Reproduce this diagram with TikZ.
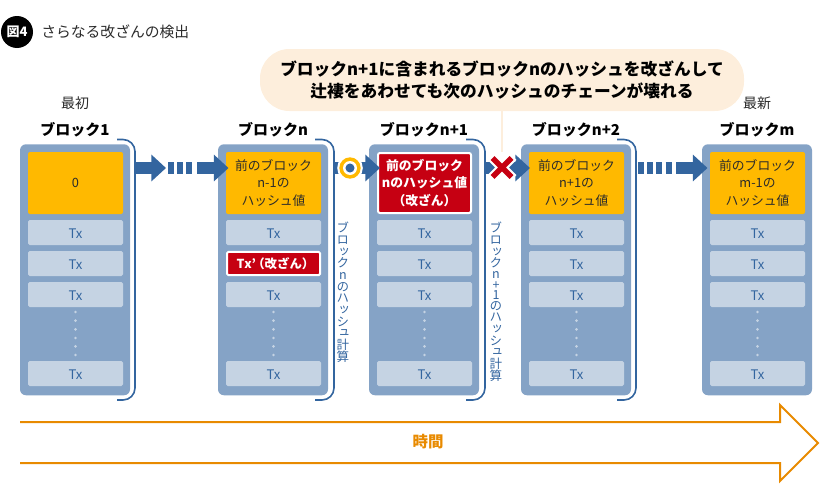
\documentclass[tikz,border=0pt]{standalone}
\usepackage{fontspec}
\usetikzlibrary{arrows.meta,calc}
\setmainfont{Noto Sans CJK JP}
\newfontfamily\vertjp[RawFeature={+vert}]{Noto Sans CJK JP}
\lineskiplimit=-20pt
\normallineskiplimit=-20pt
\definecolor{blockc}{HTML}{85A3C6}
\definecolor{txc}{HTML}{C5D3E3}
\definecolor{hashc}{HTML}{FFB900}
\definecolor{redc}{HTML}{C60012}
\definecolor{flowc}{HTML}{33659F}
\definecolor{callc}{HTML}{FDEEDC}
\definecolor{timec}{HTML}{E88A00}
\definecolor{inkc}{HTML}{2B2B2B}
\tikzset{
  x=0.75pt,y=-0.75pt,
  blockbox/.style={fill=blockc,rounded corners=4.5pt,minimum width=82.5pt,minimum height=188.25pt,inner sep=0pt,anchor=north},
  txbox/.style={fill=txc,rounded corners=1.2pt,minimum width=71.25pt,minimum height=18.75pt,inner sep=0pt,text=flowc,text height=9pt,text depth=0pt,font=\fontsize{9.9pt}{11pt}\selectfont},
  hashbox/.style={fill=hashc,rounded corners=1.5pt,minimum width=71.25pt,minimum height=46.5pt,inner sep=0pt,align=center,text=inkc,font=\fontsize{9.6pt}{13pt}\selectfont},
  redhash/.style={fill=redc,draw=white,line width=1.5pt,rounded corners=1.5pt,minimum width=69.75pt,minimum height=45pt,inner sep=0pt,align=center,text=white,font=\fontsize{9.6pt}{13pt}\selectfont\bfseries},
  redtx/.style={fill=redc,draw=white,line width=1.5pt,rounded corners=1pt,minimum width=69.75pt,minimum height=17.5pt,inner sep=0pt,text=white,font=\fontsize{9.3pt}{11pt}\selectfont\bfseries},
  headlabel/.style={inner sep=0pt,text=black,font=\fontsize{11.25pt}{13pt}\selectfont\bfseries},
  sidelabel/.style={inner sep=0pt,text=inkc,font=\fontsize{10.5pt}{13pt}\selectfont},
  bracket/.style={draw=flowc,line width=1.2pt,rounded corners=9pt},
  flow/.style={draw=flowc,line width=9.6pt,-{Triangle[length=11pt,width=19.5pt]}},
  flowdash/.style={draw=flowc,line width=9.6pt,dash pattern=on 4.5pt off 2.4pt},
  calclabel/.style={inner sep=0pt,align=center,text=flowc,font=\vertjp\fontsize{9.4pt}{8.75pt}\selectfont},
}
\begin{document}
\begin{tikzpicture}
\useasboundingbox (0,0) rectangle (840,500);
% title
\node[circle,fill=black,minimum size=24pt,inner sep=0pt,text=white,font=\fontsize{9.75pt}{11pt}\selectfont\bfseries] (badge) at (17,32) {図4};
\node[anchor=west,inner sep=0pt,text=inkc,font=\fontsize{11.1pt}{12pt}\selectfont] (title) at (41,32) {さらなる改ざんの検出};
% leader and callout
\node[fill=callc,rounded corners=22pt,minimum width=363pt,minimum height=46.5pt,inner sep=0pt,align=center,text=black,font=\fontsize{12.55pt}{17.2pt}\selectfont\bfseries] (call) at (502,80) {ブロックn+1に含まれるブロックnのハッシュを改ざんして\\辻褄をあわせても次のハッシュのチェーンが壊れる};
\coordinate (callend) at (502,152);
\draw[callc,line width=2.2pt] (call.south) -- (callend);
% blocks
\foreach \nm/\c in {a/75,b/273,c/424,d/576,e/757}{
  \node[blockbox] (\nm) at (\c,144) {};
  \node[txbox] (\nm t1) at (\c+.5,232.5) {Tx};
  \node[txbox] (\nm t3) at (\c+.5,294.5) {Tx};
  \node[txbox] (\nm t4) at (\c+.5,373.5) {Tx};
  \foreach \yy in {312,320.7,329.3,338,346.3,355}
    \fill[txc] (\c+.5,\yy) circle (1.1pt);
}
\foreach \nm/\c in {a/75,c/424,d/576,e/757}
  \node[txbox] (\nm t2) at (\c+.5,263.5) {Tx};
\node[redtx] (bt2) at (273.5,263.5) {\hspace{1pt}Tx’\kern-2.8pt（改ざん）\kern-2pt};
% hash boxes
\node[hashbox] (ah) at (75.5,183) {0};
\node[hashbox] (bh) at (273.5,183) {前のブロック\\n-1の\\ハッシュ値};
\node[redhash] (ch) at (424.5,183) {前のブロック\\nのハッシュ値\\（改ざん）};
\node[hashbox] (dh) at (576.5,183) {前のブロック\\n+1の\\ハッシュ値};
\node[hashbox] (eh) at (757.5,183) {前のブロック\\m-1の\\ハッシュ値};
% headings
\node[headlabel] (al) at (75,130) {ブロック1};
\node[headlabel] (bl) at (273,130) {ブロックn};
\node[headlabel] (cl) at (424,130) {ブロックn+1};
\node[headlabel] (dl) at (576,130) {ブロックn+2};
\node[headlabel] (el) at (757,130) {ブロックm};
\node[sidelabel] (first) at (75,103) {最初};
\node[sidelabel] (latest) at (757,103) {最新};
% brackets
\foreach \nm/\l/\r in {a/117/135,b/315/334,c/466/485,d/617/636}{
  \draw[bracket] (\l,139.5) -- (\r,139.5) -- (\r,400) -- (\l,400);
}
% flow arrows
\coordinate (a1) at (135,168); \coordinate (a2) at (166,168);
\coordinate (a3) at (168,168); \coordinate (a4) at (195,168);
\coordinate (a5) at (197,168); \coordinate (a6) at (228.5,168);
\draw[flow] (a1) -- (a2);
\draw[flowdash] (a3) -- (a4);
\draw[flow] (a5) -- (a6);
\coordinate (b1) at (334,168); \coordinate (b2) at (380,168);
\draw[flow] (b1) -- (b2);
\coordinate (c1) at (485,168); \coordinate (c2) at (530,168);
\draw[flow] (c1) -- (c2);
\coordinate (d1) at (638,168); \coordinate (d2) at (674,168);
\coordinate (d3) at (676,168); \coordinate (d4) at (707.5,168);
\draw[flowdash] (d1) -- (d2);
\draw[flow] (d3) -- (d4);
% OK mark
\coordinate (ok) at (350,168);
\fill[white] (ok) circle (9.6pt);
\fill[hashc] (ok) circle (8pt);
\fill[white] (ok) circle (5.25pt);
\fill[flowc] (ok) circle (3.4pt);
% cross mark
\coordinate (xc) at (502,167.5);
\draw[white,line width=7.4pt] ($(xc)+(-11,-11)$) -- ($(xc)+(11,11)$) ($(xc)+(11,-11)$) -- ($(xc)+(-11,11)$);
\draw[redc,line width=4.1pt] ($(xc)+(-9.5,-9.5)$) -- ($(xc)+(9.5,9.5)$) ($(xc)+(9.5,-9.5)$) -- ($(xc)+(-9.5,9.5)$);
% vertical labels
\node[calclabel,anchor=north] (bcalc) at (343,222) {ブ\\ロ\\ッ\\ク\\n\\の\\ハ\\ッ\\シ\\ュ\\計\\算};
\node[calclabel,anchor=north] (ccalc) at (496,222) {ブ\\ロ\\ッ\\ク\\[-.8pt]n\\[-.8pt]+\\[-.8pt]1\\[-.8pt]の\\ハ\\ッ\\シ\\ュ\\計\\算};
% time arrow
\draw[timec,line width=1.5pt,line join=miter] (20,422) -- (780,422) -- (780,405) -- (818,443) -- (780,481) -- (780,463) -- (20,463);
\node[inner sep=0pt,text=timec,font=\fontsize{11.6pt}{13pt}\selectfont\bfseries] (time) at (428,442) {時間};
\end{tikzpicture}
\end{document}
